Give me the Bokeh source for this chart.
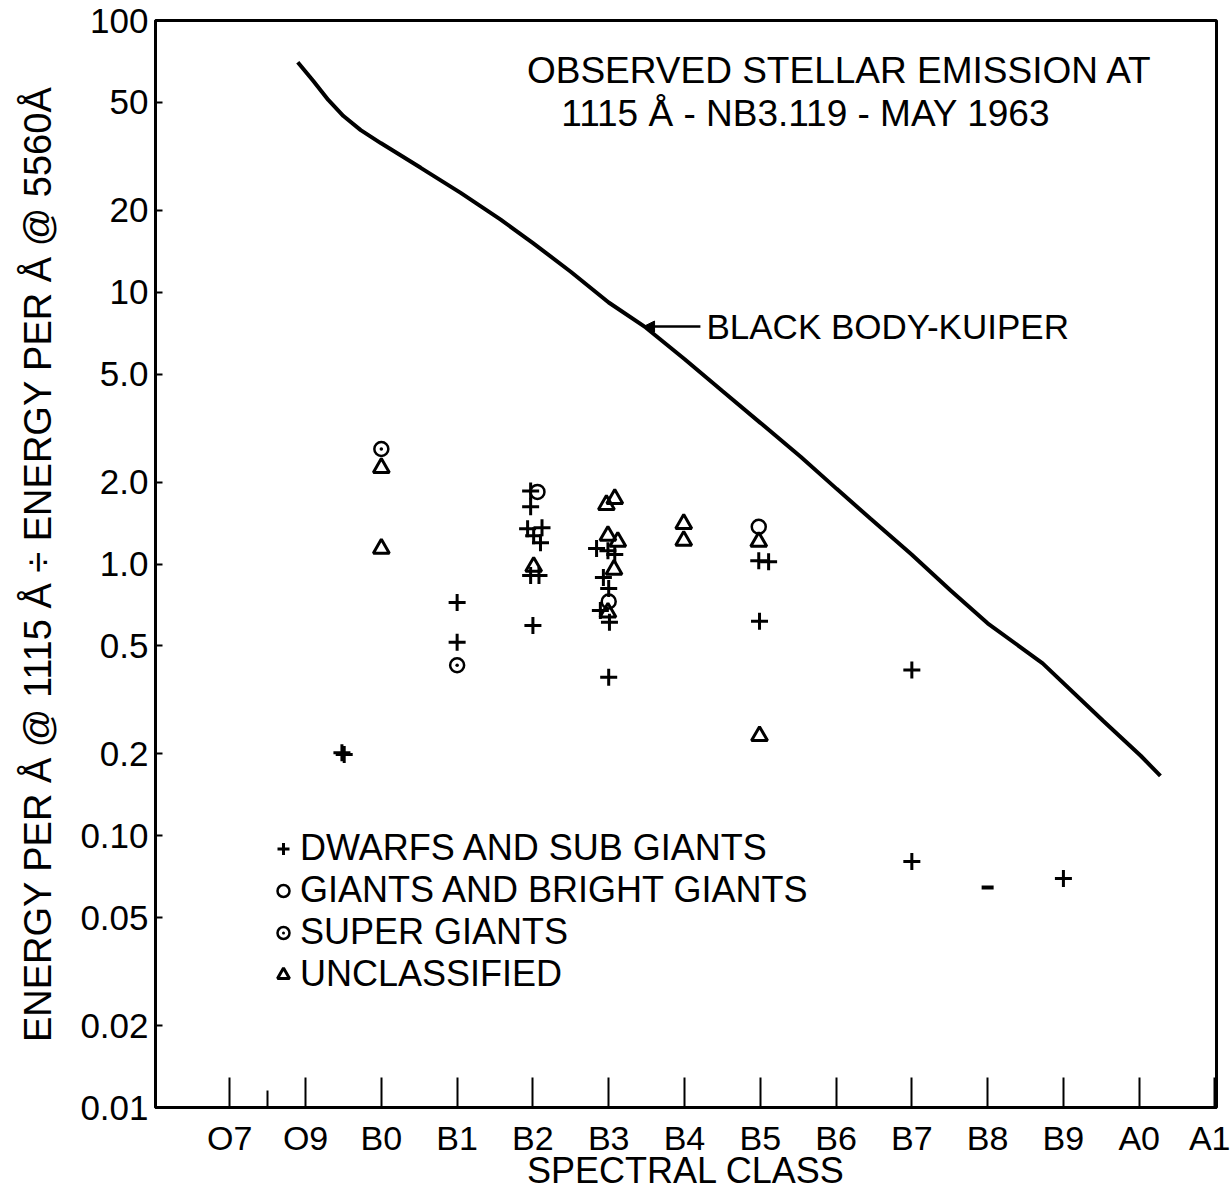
from bokeh.plotting import figure
from bokeh.models import FixedTicker, Label, Arrow, NormalHead, Legend, LegendItem
from bokeh.embed import file_html
from bokeh.resources import INLINE

FONT = "Liberation Sans"

# spectral class axis: O7=0, O9=1, B0=2 ... B9=11, A0=12, A1=13 (O8 = short tick)
class_labels = ["O7", "O9", "B0", "B1", "B2", "B3", "B4", "B5", "B6", "B7", "B8", "B9", "A0", "A1"]
class_pos = [0, 1, 2, 3, 4, 5, 6, 7, 8, 9, 10, 11, 12, 13]
minor_pos = [0.5]

y_ticks = [0.01, 0.02, 0.05, 0.1, 0.2, 0.5, 1, 2, 5, 10, 20, 50, 100]
y_tick_labels = ["0.01", "0.02", "0.05", "0.10", "0.2", "0.5", "1.0", "2.0", "5.0", "10", "20", "50", "100"]

# dwarfs and sub giants (+)
dwarf_x = [1.48, 1.51, 3.0, 3.0,
           3.97, 3.97, 3.93, 4.12, 4.01, 4.10, 3.97, 4.08, 4.0,
           4.84, 4.99, 5.08, 4.93, 5.0, 4.89, 5.01, 5.0,
           6.98, 7.11, 6.99, 9.0, 9.0, 11.0]
dwarf_y = [0.202, 0.199, 0.722, 0.515,
           1.858, 1.623, 1.348, 1.360, 1.271, 1.198, 0.907, 0.907, 0.594,
           1.14, 1.12, 1.083, 0.891, 0.812, 0.675, 0.610, 0.383,
           1.029, 1.020, 0.615, 0.407, 0.0804, 0.0696]

# giants and bright giants (o)
giant_x = [4.06, 5.0, 6.98]
giant_y = [1.842, 0.728, 1.371]

# super giants
super_x = [2.0, 3.0]
super_y = [2.65, 0.424]

# unclassified (triangle)
uncl_x = [2.0, 2.0, 4.01, 4.97, 5.08, 4.99, 5.12, 5.07, 4.99, 5.99, 5.99, 6.98, 6.99]
uncl_y = [2.26, 1.14, 0.978, 1.651, 1.737, 1.271, 1.208, 0.954, 0.663, 1.406, 1.218, 1.208, 0.233]

# B8 point drawn as a short dash
dash_x = [10.0]
dash_y = [0.0645]

# black body (Kuiper) curve
bb_x = [0.897, 1.10, 1.30, 1.50, 1.728, 1.992, 2.52, 3.047, 3.575, 3.997, 4.499, 5.0, 5.488,
        6.003, 6.504, 7.005, 7.533, 8.008, 8.456, 8.997, 9.512, 10.0, 10.726, 11.53, 12.02, 12.28]
bb_y = [70.2, 60.0, 51.0, 44.5, 39.5, 35.4, 28.7, 23.2, 18.5, 15.2, 11.9, 9.17, 7.42,
        5.67, 4.32, 3.30, 2.48, 1.89, 1.467, 1.083, 0.799, 0.605, 0.431, 0.264, 0.197, 0.166]

p = figure(width=1230, height=1193, x_range=(-0.98, 13.02), y_range=(0.01, 100),
           y_axis_type="log", output_backend="svg", toolbar_location=None,
           min_border_left=155, min_border_right=14, min_border_top=20, min_border_bottom=83)
p.grid.visible = False
p.background_fill_color = "white"
p.border_fill_color = "white"
p.outline_line_color = "black"
p.outline_line_width = 3

xa = p.xaxis[0]
xa.ticker = FixedTicker(ticks=class_pos, minor_ticks=minor_pos)
xa.major_label_overrides = dict(zip(class_pos, class_labels))
xa.major_tick_in = 30
xa.major_tick_out = 0
xa.minor_tick_in = 17
xa.minor_tick_out = 0
xa.major_tick_line_width = 2
xa.minor_tick_line_width = 2
xa.axis_line_width = 3
xa.major_label_text_font = FONT
xa.major_label_text_font_size = "34px"
xa.major_label_text_color = "black"
xa.major_label_standoff = 11
xa.axis_label = "SPECTRAL CLASS"
xa.axis_label_text_font = FONT
xa.axis_label_text_font_size = "36px"
xa.axis_label_text_font_style = "normal"
xa.axis_label_text_color = "black"
xa.axis_label_standoff = -10

ya = p.yaxis[0]
ya.ticker = FixedTicker(ticks=y_ticks, minor_ticks=[])
ya.major_label_overrides = dict(zip(y_ticks, y_tick_labels))
ya.major_tick_in = 7
ya.major_tick_out = 0
ya.major_tick_line_width = 2
ya.axis_line_width = 3
ya.major_label_text_font = FONT
ya.major_label_text_font_size = "35px"
ya.major_label_text_color = "black"
ya.major_label_standoff = 7
ya.axis_label = "ENERGY PER Å @ 1115 Å ÷ ENERGY PER Å @ 5560Å"
ya.axis_label_text_font = FONT
ya.axis_label_text_font_size = "38px"
ya.axis_label_text_font_style = "normal"
ya.axis_label_text_color = "black"
ya.axis_label_standoff = 18

p.line(bb_x, bb_y, line_color="black", line_width=4)

r_dw = p.scatter(dwarf_x, dwarf_y, marker="cross", size=17, line_color="black", line_width=3)
r_gi = p.scatter(giant_x, giant_y, marker="circle", size=14, line_color="black", line_width=2.5,
                 fill_color=None)
r_su = p.scatter(super_x, super_y, marker="circle_dot", size=14, line_color="black", line_width=2.5,
                 fill_color=None)
r_un = p.scatter(uncl_x, uncl_y, marker="triangle", size=16, line_color="black", line_width=3,
                 fill_color=None)
p.scatter(dash_x, dash_y, marker="dash", size=12, line_color="black", line_width=4)

legend = Legend(items=[
    LegendItem(label="DWARFS AND SUB GIANTS", renderers=[r_dw]),
    LegendItem(label="GIANTS AND BRIGHT GIANTS", renderers=[r_gi]),
    LegendItem(label="SUPER GIANTS", renderers=[r_su]),
    LegendItem(label="UNCLASSIFIED", renderers=[r_un]),
], location=(113, 112))
legend.border_line_alpha = 0
legend.background_fill_alpha = 0
legend.padding = 0
legend.margin = 0
legend.glyph_width = 30
legend.glyph_height = 39
legend.label_height = 39
legend.spacing = 0
legend.label_standoff = 2
legend.label_text_font = FONT
legend.label_text_font_size = "36px"
legend.label_text_line_height = 1.0
legend.label_text_color = "black"
legend.label_text_baseline = "middle"
p.add_layout(legend, "center")

p.add_layout(Label(x=8.05, y=65.6, text="OBSERVED STELLAR EMISSION AT", text_align="center",
                   text_baseline="middle", text_font=FONT, text_font_size="37px", text_color="black"))
p.add_layout(Label(x=7.6, y=45.6, text="1115 Å - NB3.119 - MAY 1963", text_align="center",
                   text_baseline="middle", text_font=FONT, text_font_size="37px", text_color="black"))
p.add_layout(Label(x=6.29, y=7.48, text="BLACK BODY-KUIPER", text_align="left",
                   text_baseline="middle", text_font=FONT, text_font_size="35px", text_color="black"))
p.add_layout(Arrow(x_start=6.21, y_start=7.48, x_end=5.46, y_end=7.48, line_width=2.5,
                   line_color="black",
                   end=NormalHead(size=11, fill_color="black", line_color="black")))

open("out.html", "w").write(file_html(p, INLINE))
